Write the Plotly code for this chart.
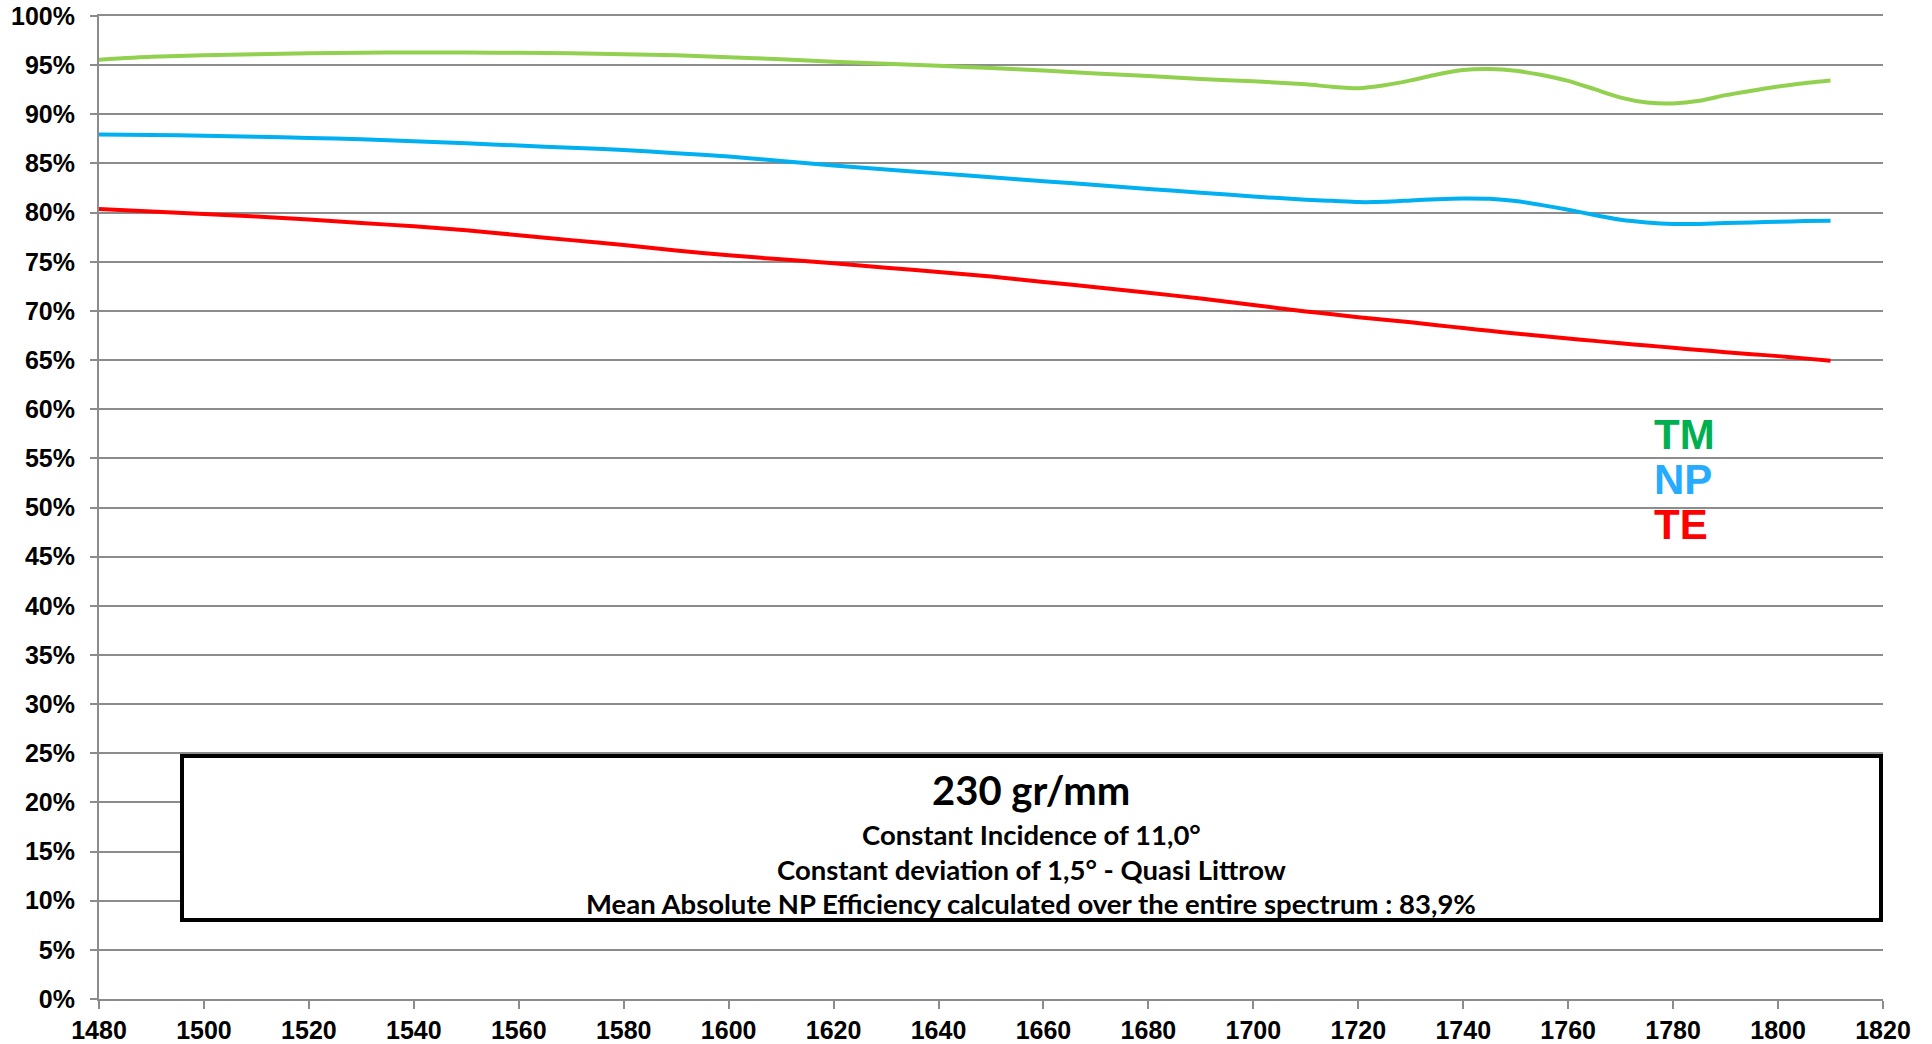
import plotly.graph_objects as go

wavelength = [1480, 1490, 1500, 1510, 1520, 1530, 1540, 1550, 1560, 1570, 1580, 1590,
              1600, 1610, 1620, 1630, 1640, 1650, 1660, 1670, 1680, 1690, 1700, 1710,
              1715, 1720, 1725, 1730, 1735, 1740, 1745, 1750, 1755, 1760, 1765, 1770,
              1775, 1780, 1785, 1790, 1795, 1800, 1805, 1810]

tm = [95.55, 95.85, 96.00, 96.12, 96.20, 96.26, 96.29, 96.28, 96.25, 96.20, 96.12, 96.00,
      95.80, 95.60, 95.35, 95.15, 94.93, 94.70, 94.45, 94.15, 93.90, 93.60, 93.35, 93.05,
      92.80, 92.65, 92.95, 93.45, 94.05, 94.50, 94.60, 94.42, 94.00, 93.40, 92.56, 91.70,
      91.20, 91.10, 91.37, 91.95, 92.40, 92.83, 93.17, 93.44]

np_ = [87.95, 87.90, 87.82, 87.72, 87.60, 87.45, 87.25, 87.05, 86.82, 86.60, 86.36, 86.05,
       85.70, 85.25, 84.80, 84.38, 83.99, 83.60, 83.20, 82.81, 82.41, 82.02, 81.65, 81.30,
       81.20, 81.07, 81.10, 81.24, 81.37, 81.44, 81.40, 81.17, 80.76, 80.29, 79.75, 79.27,
       79.00, 78.85, 78.85, 78.93, 79.00, 79.07, 79.14, 79.17]

te = [80.36, 80.10, 79.85, 79.60, 79.30, 78.95, 78.60, 78.20, 77.70, 77.20, 76.70, 76.15,
      75.65, 75.25, 74.85, 74.40, 73.95, 73.50, 72.95, 72.40, 71.85, 71.25, 70.60, 69.95,
      69.65, 69.35, 69.10, 68.85, 68.55, 68.25, 67.98, 67.70, 67.45, 67.20, 66.95, 66.70,
      66.48, 66.25, 66.02, 65.80, 65.60, 65.40, 65.17, 64.93]

series_names = ["TM", "NP", "TE"]
line_colors = ["#92D050", "#00B0F0", "#FF0000"]
label_colors = ["#00B050", "#26ABFF", "#FF0000"]

x_ticks = list(range(1480, 1821, 20))
y_ticks = list(range(0, 101, 5))
y_tick_labels = [f"{v}%" for v in y_ticks]

title_text = "230 gr/mm"
info_lines = ["Constant Incidence of 11,0°",
              "Constant deviation of 1,5° - Quasi Littrow",
              "Mean Absolute NP Efficiency calculated over the entire spectrum : 83,9%"]

fig = go.Figure()
for name, vals, col in zip(series_names, [tm, np_, te], line_colors):
    fig.add_trace(go.Scatter(x=wavelength, y=vals, mode="lines", name=name,
                             line=dict(color=col, width=4, shape="spline", smoothing=0.6),
                             showlegend=False))

# body margin is removed via post_script, so page coords == figure coords
W, H = 1932, 1044
ml, mt = 99, 16
mr = W - 1883
mb = H - 999
pw, ph = W - ml - mr, H - mt - mb

def px(x):
    return (x - ml) / pw

def py(y):
    return (H - mb - y) / ph

tickfont = dict(family="Liberation Sans", size=25, color="black", weight="bold")
grid = "#8C8C8C"

fig.update_layout(
    width=W, height=H,
    margin=dict(l=ml, r=mr, t=mt, b=mb, autoexpand=False),
    paper_bgcolor="white", plot_bgcolor="white",
    xaxis=dict(range=[1480, 1820], tickvals=x_ticks, showgrid=False, zeroline=False,
               showline=True, linecolor=grid, linewidth=2, automargin=False, mirror=True,
               ticks="outside", ticklen=8, tickcolor=grid, tickwidth=2,
               tickfont=tickfont, ticklabelstandoff=0, ticklabeloverflow="allow"),
    yaxis=dict(range=[0, 100], tickvals=y_ticks, ticktext=y_tick_labels, showgrid=True,
               gridcolor=grid, gridwidth=2, zeroline=False, automargin=False,
               showline=True, linecolor=grid, linewidth=2,
               ticks="outside", ticklen=7, tickcolor=grid, tickwidth=2,
               tickfont=tickfont, ticklabelstandoff=10, ticklabeloverflow="allow"),
)

# info box
fig.add_shape(type="rect", xref="paper", yref="paper",
              x0=px(182), x1=px(1881), y0=py(920), y1=py(756),
              line=dict(color="black", width=4), fillcolor="white", layer="above")

box_font = "Lato, Open Sans, sans-serif"
fig.add_annotation(xref="paper", yref="paper", x=px(1031), y=py(790), text=title_text,
                   showarrow=False, xanchor="center", yanchor="middle",
                   font=dict(family=box_font, size=40, color="black", weight="bold"))
for t, yc in zip(info_lines, [834, 869, 903]):
    fig.add_annotation(xref="paper", yref="paper", x=px(1031), y=py(yc), text=t,
                       showarrow=False, xanchor="center", yanchor="middle",
                       font=dict(family=box_font, size=27.5, color="black", weight="bold"))

# series labels
for name, col, yc in zip(series_names, label_colors, [434, 479, 524]):
    fig.add_annotation(xref="paper", yref="paper", x=px(1652), y=py(yc), text=name,
                       showarrow=False, xanchor="left", yanchor="middle",
                       font=dict(family="Liberation Sans", size=42, color=col,
                                 weight="bold"))

fig.write_html("out.html", config={"displayModeBar": False},
               post_script="document.body.style.margin='0';document.body.style.overflow='hidden';")
